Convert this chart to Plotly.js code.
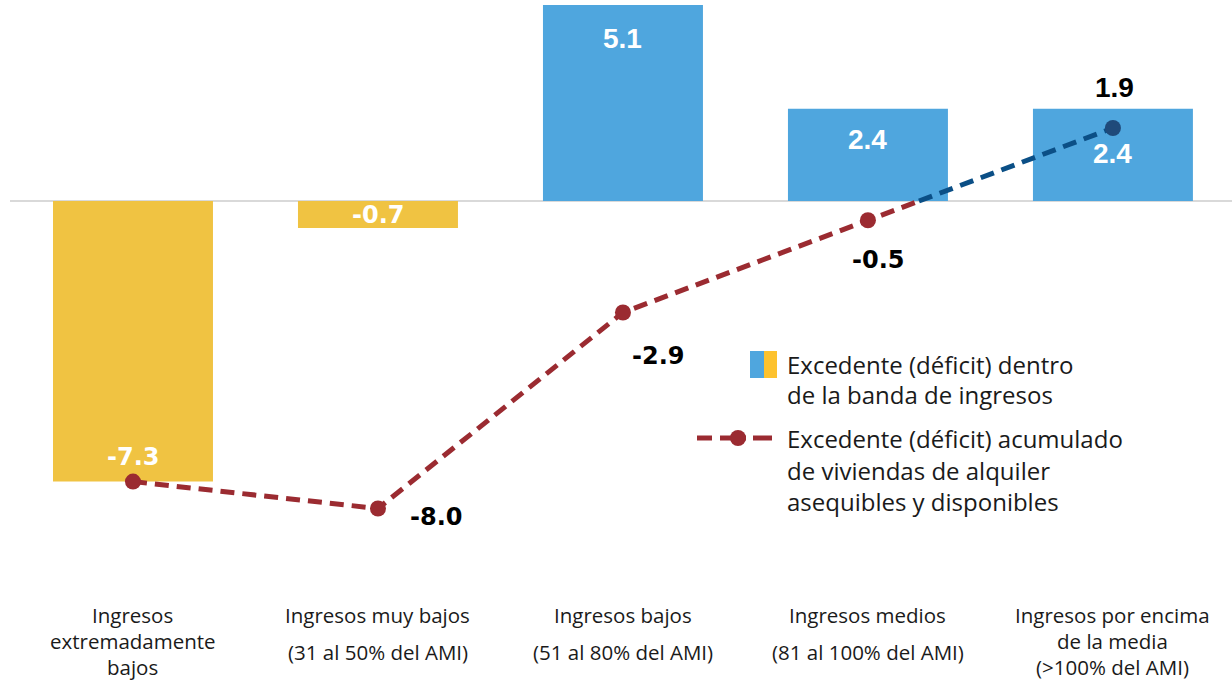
<!DOCTYPE html>
<html>
<head>
<meta charset="utf-8">
<script src="https://cdn.plot.ly/plotly-3.0.1.min.js"></script>
<style>
  html, body { margin: 0; padding: 0; background: #fff; overflow: hidden; }
  #chart { width: 1232px; height: 681px; }
</style>
</head>
<body>
<div id="chart"></div>
<script>
// Income bands (each label split into its printed lines)
const categoryLines = [
  ["Ingresos", "extremadamente", "bajos"],
  ["Ingresos muy bajos", "(31 al 50% del AMI)"],
  ["Ingresos bajos", "(51 al 80% del AMI)"],
  ["Ingresos medios", "(81 al 100% del AMI)"],
  ["Ingresos por encima", "de la media", "(>100% del AMI)"]
];

// Surplus (deficit) within each income band
const bandValues = [-7.3, -0.7, 5.1, 2.4, 2.4];

// Cumulative surplus (deficit) of affordable and available rentals
const cumulativeValues = [-7.3, -8.0, -2.9, -0.5, 1.9];

// Legend text lines
const legendBarLines = ["Excedente (déficit) dentro", "de la banda de ingresos"];
const legendLineLines = ["Excedente (déficit) acumulado", "de viviendas de alquiler", "asequibles y disponibles"];

const BLUE = "#4FA6DE";
const YELLOW = "#F0C342";
const RED = "#9B2B31";
const NAVY = "#0B4F86";
const NAVY_DOT = "#1F4A7A";

const xIdx = bandValues.map((_, i) => i);

// Split the cumulative line where it changes sign
const redX = [], redY = [], blueX = [], blueY = [];
for (let i = 0; i < cumulativeValues.length; i++) {
  const v = cumulativeValues[i];
  if (v < 0) { redX.push(i); redY.push(v); }
  if (i > 0) {
    const p = cumulativeValues[i - 1];
    if (p < 0 && v >= 0) {
      const xc = (i - 1) + (0 - p) / (v - p);
      redX.push(xc); redY.push(0);
      blueX.push(xc); blueY.push(0);
    }
  }
  if (v >= 0) { blueX.push(i); blueY.push(v); }
}

const dash = "14px,8px";

const traces = [
  {
    type: "bar",
    x: xIdx,
    y: bandValues,
    marker: { color: bandValues.map(v => v < 0 ? YELLOW : BLUE) },
    width: 0.653,
    hoverinfo: "skip"
  },
  {
    type: "scatter", mode: "lines",
    x: redX, y: redY,
    line: { color: RED, width: 5, dash: dash },
    hoverinfo: "skip"
  },
  {
    type: "scatter", mode: "lines",
    x: blueX, y: blueY,
    line: { color: NAVY, width: 5, dash: dash },
    hoverinfo: "skip"
  },
  {
    type: "scatter", mode: "markers",
    x: xIdx, y: cumulativeValues,
    marker: { size: 16, color: cumulativeValues.map(v => v < 0 ? RED : NAVY_DOT) },
    hoverinfo: "skip"
  }
];

const textFont = "'Open Sans', 'Noto Sans', sans-serif";
const narrowBold = "'Liberation Sans', Arial, sans-serif";
const wideBold = "'DejaVu Sans', 'Liberation Sans', sans-serif";

const annotations = [];

// Bar value labels (inside the bar end)
const barLabelShift = [25, 13, -33, -31, -45];
bandValues.forEach((v, i) => {
  annotations.push({
    x: i, y: v, xref: "x", yref: "y",
    text: "<b>" + v.toFixed(1) + "</b>",
    showarrow: false,
    yanchor: "middle",
    yshift: barLabelShift[i],
    font: { family: v < 0 ? wideBold : narrowBold, size: v < 0 ? 24 : 28, color: "#ffffff" }
  });
});

// Cumulative value labels (first point shares its label with the bar)
const lineLabelShift = [null, [58, -8], [35, -44], [10, -40], [2, 40]];
cumulativeValues.forEach((v, i) => {
  if (!lineLabelShift[i]) return;
  annotations.push({
    x: i, y: v, xref: "x", yref: "y",
    text: "<b>" + v.toFixed(1) + "</b>",
    showarrow: false,
    xshift: lineLabelShift[i][0],
    yshift: lineLabelShift[i][1],
    font: { family: v < 0 ? wideBold : narrowBold, size: v < 0 ? 24 : 28, color: "#000000" }
  });
});

// Category labels under the plot, one annotation per printed line
categoryLines.forEach((lines, i) => {
  const step = lines.length === 3 ? 26 : 37;
  lines.forEach((t, k) => {
    annotations.push({
      x: i, y: 0, xref: "x", yref: "paper",
      text: t, showarrow: false,
      yanchor: "middle",
      yshift: -25 - k * step,
      font: { family: textFont, size: 20.5, color: "#1a1a1a" }
    });
  });
});

// Legend, drawn in pixel-derived paper coordinates
const L = 10, W = 1222, H = 590;
const px = x => (x - L) / W;
const py = y => (H - y) / H;

legendBarLines.forEach((t, k) => {
  annotations.push({
    x: px(785), y: py(364 + k * 30), xref: "paper", yref: "paper",
    xanchor: "left", yanchor: "middle",
    text: t, showarrow: false,
    font: { family: textFont, size: 24, color: "#1a1a1a" }
  });
});
legendLineLines.forEach((t, k) => {
  annotations.push({
    x: px(785), y: py(439 + k * 31), xref: "paper", yref: "paper",
    xanchor: "left", yanchor: "middle",
    text: t, showarrow: false,
    font: { family: textFont, size: 24, color: "#1a1a1a" }
  });
});

const shapes = [
  { type: "rect", xref: "paper", yref: "paper", x0: px(750), x1: px(764), y0: py(378), y1: py(351),
    fillcolor: BLUE, line: { width: 0 } },
  { type: "rect", xref: "paper", yref: "paper", x0: px(764), x1: px(777), y0: py(378), y1: py(351),
    fillcolor: "#FDC22E", line: { width: 0 } },
  { type: "line", xref: "paper", yref: "paper", x0: px(697), x1: px(712), y0: py(438), y1: py(438),
    line: { color: RED, width: 5 } },
  { type: "line", xref: "paper", yref: "paper", x0: px(720), x1: px(746), y0: py(438), y1: py(438),
    line: { color: RED, width: 5 } },
  { type: "line", xref: "paper", yref: "paper", x0: px(753), x1: px(772), y0: py(438), y1: py(438),
    line: { color: RED, width: 5 } },
  { type: "circle", xref: "paper", yref: "paper", x0: px(730), x1: px(746), y0: py(446), y1: py(430),
    fillcolor: RED, line: { width: 0 } }
];

const layout = {
  width: 1232, height: 681,
  margin: { l: 10, r: 0, t: 0, b: 91 },
  paper_bgcolor: "#ffffff",
  plot_bgcolor: "#ffffff",
  showlegend: false,
  xaxis: {
    range: [-0.502, 4.486],
    showgrid: false, zeroline: false, showticklabels: false, showline: false, ticks: ""
  },
  yaxis: {
    range: [-10.12, 5.23],
    showgrid: false, showticklabels: false, showline: false, ticks: "",
    zeroline: true, zerolinecolor: "#D9D9D9", zerolinewidth: 2
  },
  annotations: annotations,
  shapes: shapes
};

Plotly.newPlot("chart", traces, layout, { staticPlot: true, displayModeBar: false });
</script>
</body>
</html>
